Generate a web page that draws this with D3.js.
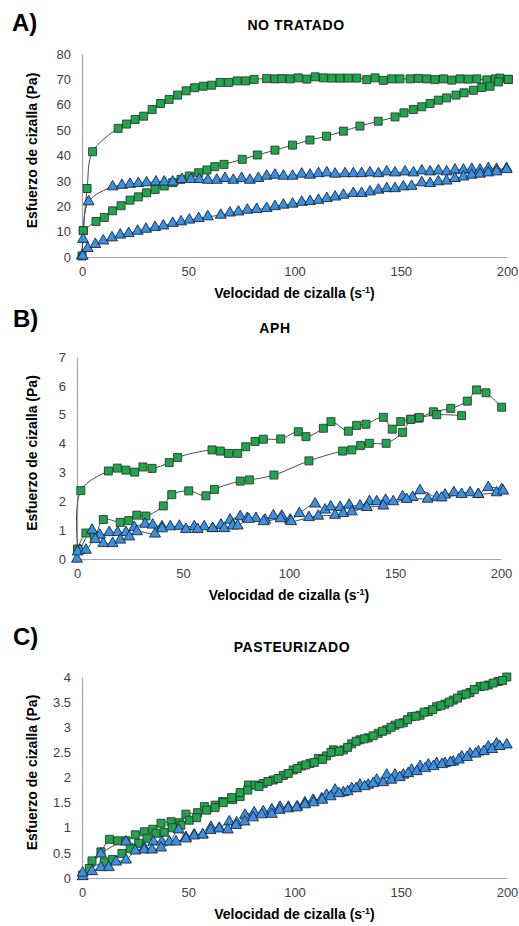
<!DOCTYPE html>
<html>
<head>
<meta charset="utf-8">
<script src="https://cdn.jsdelivr.net/npm/d3@7"></script>
<style>
  body { margin: 0; background: #ffffff; }
  text { font-family: "Liberation Sans", Arial, sans-serif; }
</style>
</head>
<body>
<script>
// x ticks shared by the three panels
var xTicks = [0, 50, 100, 150, 200];

// A) no tratado
var yTicksA = [0, 10, 20, 30, 40, 50, 60, 70, 80];
var aGreenUp = [[0,0.4],[0.6,10.4],[2.4,27],[5,41.5],[17,50.7],[21,52.4],[25,54.2],[29,55.5],[33,58.1],[37,60.5],[41,62.1],[45,63.8],[49,65.5],[53,66.7],[57,67.3],[61,67.7],[65,68.8],[69,68.8],[73,69.4],[77,69.4],[81,70],[86.9,70.3],[90.8,70.2],[94,70.3],[97.9,70.2],[101.8,70.6],[105.8,70.1],[109.7,71],[113.6,70.6],[117.5,70.5],[121.4,70.5],[125.3,70.5],[129.3,70.5],[134,69.9],[137.9,70.6],[141.8,69.6],[145.7,70.2],[149.6,70.2],[154.4,70.2],[158.3,70.4],[162.2,70.2],[166.1,69.9],[170.1,70.2],[174,69.7],[177.9,70.2],[181.8,70.1],[185.8,70.2],[190.5,69.8],[194.4,70.2],[196.7,70.5],[200.6,70]];
var aGreenDown = [[0.6,10.4],[6.6,14],[10.5,15.6],[14.4,18.2],[18.4,20.2],[22.6,22.4],[26.5,23.7],[30.4,25.3],[34.4,26.6],[38.7,28],[42.7,29.3],[46.6,30.6],[50.5,31.9],[54.9,33.2],[58.8,34.3],[62.5,35.6],[66.8,36.5],[75.4,38.5],[82.5,40.2],[90.8,42.1],[99.1,44.1],[107.3,46.1],[115.1,47.6],[123,49.6],[130.8,51.6],[139.4,53.5],[147.3,55.2],[151.5,56.8],[155.9,58.1],[159.9,59.2],[163.8,60.5],[167.7,61.8],[171.6,62.7],[176,63.8],[179.8,64.7],[184.2,65.7],[188.1,66.8],[192,67.3],[196,69],[200.6,70]];
var aBlueUp = [[0,0.5],[0.5,7],[3.1,21.8],[14.4,27.7],[18.8,28.3],[22.6,28.7],[26.5,29],[30.4,29.3],[34.8,29.6],[38.7,29.6],[42.7,29.6],[47,30.6],[51.3,30.6],[55.2,30.6],[59.2,30.3],[63.4,30.3],[67.3,31],[71.2,30.3],[75.1,31],[79,30.3],[83,31],[86.9,31.9],[90.8,32.3],[94.8,31.9],[99.1,31.9],[103.4,32.7],[107.3,32.3],[111.3,32.9],[115.2,33.2],[119.1,32.7],[123.8,32.9],[127.7,32.9],[131.6,32.9],[135.5,33.2],[139.5,32.9],[143.4,33.6],[147.3,33.2],[152,33.6],[156,33.2],[159.9,34],[163.8,33.6],[167.7,34],[171.6,33.6],[175.5,34.3],[179.5,34.3],[183.4,34.6],[187.3,34.3],[191.2,34.9],[195.1,34.6],[199.8,34.9]];
var aBlueDown = [[0.3,0.4],[2.7,3.4],[6.3,5],[10,6.4],[14.1,7.6],[18,8.7],[22,9.3],[26.2,10.2],[30.1,11],[34.4,11.7],[38.3,12.3],[42.7,13.3],[46.6,13.9],[50.5,14.6],[54.9,15.2],[59.2,15.9],[65.3,16.5],[69.6,17.4],[73.6,17.8],[77.8,18.5],[82.2,18.8],[86.9,19.2],[90.8,19.9],[94.8,20.5],[99.1,20.9],[103.4,21.6],[107.3,21.9],[111.3,22.4],[115.2,23.1],[119.1,23.7],[123,24.4],[127.7,25.1],[131.6,25.1],[135.5,25.7],[139.5,26.4],[143.4,27],[147.3,27],[151.2,27.7],[155.1,27.9],[159.9,29.3],[163.8,29],[167.7,29.7],[171.6,30],[175.5,31],[179.5,31.6],[183.4,32.3],[187.3,32.7],[191.2,33.2],[195.1,33.6],[199.8,34.5]];

// B) APH
var yTicksB = [0, 1, 2, 3, 4, 5, 6, 7];
var bGreenUp = [[0.3,0.34],[1.8,2.37],[14.8,3.05],[19,3.15],[23.1,3.08],[27.2,3.01],[31.1,3.19],[35.4,3.14],[43.5,3.34],[47.5,3.52],[63.7,3.78],[67.6,3.74],[71.5,3.66],[75.8,3.66],[79.6,3.89],[84,4.07],[87.9,4.15],[96.1,4.16],[104.4,4.41],[108,4.24],[116.2,4.53],[119.8,4.76],[128,4.43],[131.9,4.63],[136.3,4.67],[144.5,4.91],[148.7,4.5],[152.7,4.76],[157.4,4.84],[161,4.88],[168.1,5.1],[176.3,5.22],[184.1,5.47],[188.5,5.86],[192.9,5.76],[200.3,5.26]];
var bGreenDown = [[0.3,0.34],[4.2,0.9],[8.2,0.8],[12.4,1.37],[20.4,1.27],[24.4,1.33],[28.2,1.52],[32.5,1.49],[40.7,1.84],[44.7,2.23],[52.7,2.36],[60.8,2.19],[64.8,2.41],[77,2.7],[81.3,2.74],[92.9,2.91],[109.4,3.4],[125.3,3.74],[129.6,3.78],[133.8,3.93],[137.9,4.01],[145.8,4.01],[153.6,4.39],[157.5,4.84],[161.5,4.9],[169.7,5.0],[181.4,4.97]];
var bBlueUp = [[0,0],[1.4,0.3],[7.1,1.0],[10.8,0.83],[15.2,0.92],[19.2,0.92],[23.1,0.92],[27,1.1],[32.1,1.21],[35.7,1.18],[40.1,1.12],[44,1.12],[48.3,1.14],[55.3,1.12],[60,1.12],[64,1.06],[67.9,1.18],[72.2,1.35],[77,1.47],[80.3,1.41],[84.4,1.41],[88.7,1.35],[92.6,1.5],[96.6,1.49],[100.5,1.35],[104.9,1.58],[112.3,1.91],[117,1.7],[119.7,1.81],[124.1,1.79],[128.4,1.87],[133.5,1.84],[137.9,1.99],[141.4,1.99],[145.6,2.04],[149.2,1.99],[153.6,2.16],[158.3,2.14],[161.8,2.37],[169.7,2.14],[173.6,2.22],[177.8,2.3],[185.4,2.3],[189.3,2.24],[194,2.48],[200.3,2.41]];
var bBlueDown = [[0.3,0.25],[4.2,0.31],[8.6,0.68],[12.4,0.54],[16.8,0.54],[20.4,0.66],[24.7,0.77],[28.3,0.95],[36.8,0.87],[40.1,1.05],[51.4,1.03],[56.9,1.03],[64,1.06],[69.5,1.06],[73.4,1.15],[75.8,1.15],[81,1.38],[88,1.3],[96,1.4],[101,1.3],[109.4,1.44],[113.8,1.49],[121.7,1.52],[125.6,1.58],[129.6,1.64],[136.7,1.79],[144.5,1.84],[155.5,2.07],[165.4,2.08],[172,2.12],[181.4,2.24],[189.3,2.24],[197.9,2.3],[201,2.36]];

// C) pasteurizado
var yTicksC = [0, 0.5, 1, 1.5, 2, 2.5, 3, 3.5, 4];
var cGreenUp = [[0.3,0.06],[4.7,0.34],[8.9,0.52],[12.9,0.77],[16.8,0.74],[20.7,0.74],[25.1,0.86],[29.3,0.92],[33.3,0.97],[37.2,1.09],[41.9,1.12],[45.8,1.1],[48.9,1.27],[54.4,1.3],[57.6,1.42],[62.7,1.45],[66.2,1.52],[70.9,1.56],[74.4,1.62],[78.3,1.85],[81.4,1.85],[85.3,1.88],[90,1.95],[94.7,2.04],[99.4,2.15],[103.4,2.23],[107.3,2.28],[111.2,2.38],[115.1,2.43],[118.3,2.55],[123,2.55],[126.9,2.67],[130.8,2.75],[134.7,2.79],[139.4,2.88],[143.4,2.95],[147.3,3.04],[151.2,3.09],[155.1,3.21],[159.1,3.24],[163,3.31],[166.9,3.41],[170.8,3.46],[174.7,3.54],[178.7,3.64],[182.6,3.69],[187.3,3.81],[191.2,3.84],[195.9,3.91],[199.9,4.0]];
var cGreenDown = [[3.4,0.19],[10.5,0.32],[14.4,0.37],[18.8,0.49],[22.7,0.59],[26.7,0.69],[30.6,0.79],[34.8,0.89],[38.7,0.91],[42.5,1.0],[46.5,1.05],[50.5,1.15],[54,1.2],[58.7,1.35],[62.6,1.4],[66.5,1.5],[70.4,1.6],[74.4,1.7],[78,1.75],[83.3,1.82],[87.5,1.92],[92.3,1.98],[97,2.08],[101.3,2.18],[105.3,2.25],[109.3,2.3],[113.2,2.36],[117.2,2.5],[121,2.52],[125,2.6],[129,2.72],[132.8,2.77],[137,2.83],[141.4,2.92],[145.4,3.0],[149.3,3.07],[153.2,3.15],[157.1,3.22],[161,3.3],[165,3.35],[168.9,3.43],[172.8,3.5],[176.7,3.58],[180.7,3.66],[184.6,3.75],[189.3,3.82],[193.5,3.88],[197.9,3.93]];
var cBlueUp = [[0.3,0.03],[8.9,0.48],[20.7,0.72],[29.3,0.6],[33.6,0.72],[37.6,0.72],[41.1,0.72],[45.5,0.96],[48.9,0.81],[52.8,0.86],[56.8,0.86],[60.7,1.01],[64.6,0.99],[69.3,1.12],[72.8,1.1],[76.7,1.25],[81,1.3],[85.3,1.32],[89.3,1.36],[93.2,1.41],[97.1,1.41],[101.3,1.42],[104.9,1.5],[108.8,1.55],[112.8,1.58],[115.1,1.65],[119.1,1.75],[123,1.7],[126.9,1.78],[130.8,1.85],[134.7,1.85],[138.7,1.95],[141.8,1.9],[147.3,2.05],[151.2,2.05],[155.1,2.15],[159.1,2.22],[163,2.25],[166.9,2.28],[170.8,2.28],[174.7,2.31],[178.7,2.41],[182.6,2.47],[186.5,2.51],[191.2,2.61],[195.1,2.67],[199.9,2.65]];
var cBlueDown = [[0.3,0.1],[4.7,0.13],[8.9,0.21],[12.6,0.21],[16,0.32],[20.7,0.36],[25.1,0.54],[29.3,0.56],[32.9,0.56],[37.2,0.6],[44.2,0.72],[48.9,0.78],[52.8,0.84],[56.8,0.86],[60.5,0.95],[64.5,0.98],[68.6,0.96],[72.5,1.05],[76.5,1.12],[80.5,1.2],[84.5,1.26],[89.3,1.27],[93,1.35],[97,1.38],[101,1.4],[105,1.46],[109,1.5],[113,1.55],[117,1.62],[121,1.68],[125,1.72],[129,1.78],[133,1.82],[137,1.88],[143.4,2.05],[145.6,1.95],[149.5,2.0],[153.5,2.08],[157.5,2.12],[161.5,2.18],[165.4,2.22],[169.4,2.26],[173.3,2.3],[177.3,2.35],[181.2,2.4],[185.2,2.47],[189.1,2.52],[193,2.56],[196.5,2.62]];

// the whole figure
var svg = d3.select("body")
            .append("svg")
            .attr("width", 519)
            .attr("height", 926);

svg.append("rect")
   .attr("width", 519)
   .attr("height", 926)
   .attr("fill", "#ffffff");

// one panel: box, letter, title and four series
function drawPanel(p) {
    var x = d3.scaleLinear()
              .domain([0, 200])
              .range([p.left, p.right]);

    var y = d3.scaleLinear()
              .domain([0, p.yMax])
              .range([p.bottom, p.top]);

    // y axis
    var yAxis = svg.append("g")
                   .attr("transform", "translate(" + p.left + ",0)")
                   .call(d3.axisLeft(y)
                           .tickValues(p.yTicks)
                           .tickSize(0)
                           .tickPadding(11)
                           .tickFormat(function(d) { return String(d); }));

    // x axis
    var xAxis = svg.append("g")
                   .attr("transform", "translate(0," + p.bottom + ")")
                   .call(d3.axisBottom(x)
                           .tickValues(xTicks)
                           .tickSize(0)
                           .tickPadding(10));

    [yAxis, xAxis].forEach(function(g) {
        g.select(".domain")
         .attr("stroke", "#a6a6a6")
         .attr("stroke-width", 1.2);
        g.selectAll("text")
         .attr("fill", "#404040")
         .style("font-size", "13px")
         .style("font-family", "'Liberation Sans', Arial, sans-serif");
    });

    // panel letter
    svg.append("text")
       .attr("x", p.letterX)
       .attr("y", p.letterY)
       .style("font-size", "24px")
       .style("font-weight", "bold")
       .text(p.letter);

    // panel title
    svg.append("text")
       .attr("x", p.titleX)
       .attr("y", p.titleY)
       .attr("text-anchor", "middle")
       .style("font-size", "14px")
       .style("font-weight", "bold")
       .style("letter-spacing", "0.6px")
       .text(p.title);

    // x axis title with superscript
    var xt = svg.append("text")
                .attr("x", (p.left + p.right) / 2)
                .attr("y", p.bottom + 41)
                .attr("text-anchor", "middle")
                .style("font-size", "14px")
                .style("font-weight", "bold");
    xt.append("tspan").text("Velocidad de cizalla (s");
    xt.append("tspan").attr("dy", -5).style("font-size", "9px").text("-1");
    xt.append("tspan").attr("dy", 5).text(")");

    // y axis title
    svg.append("text")
       .attr("text-anchor", "middle")
       .attr("transform", "translate(37," + ((p.top + p.bottom) / 2 - 5) + ")rotate(-90)")
       .style("font-size", "14px")
       .style("font-weight", "bold")
       .text("Esfuerzo de cizalla (Pa)");

    var line = d3.line()
                 .x(function(d) { return x(d[0]); })
                 .y(function(d) { return y(d[1]); })
                 .curve(d3.curveCatmullRom.alpha(0.5));

    var series = [
        { data: p.greenUp, shape: "square" },
        { data: p.greenDown, shape: "square" },
        { data: p.blueUp, shape: "triangle" },
        { data: p.blueDown, shape: "triangle" }
    ];

    // connecting lines first
    series.forEach(function(s) {
        svg.append("path")
           .datum(s.data)
           .attr("d", line)
           .attr("fill", "none")
           .attr("stroke", "#4a4a4a")
           .attr("stroke-width", 1);
    });

    // then the markers, green squares below blue triangles
    var square = d3.symbol().type(d3.symbolSquare).size(64);
    var triangle = d3.symbol().type(d3.symbolTriangle).size(52);

    series.forEach(function(s) {
        svg.append("g")
           .selectAll("path")
           .data(s.data)
           .enter()
           .append("path")
           .attr("transform", function(d) {
               return "translate(" + x(d[0]) + "," + y(d[1]) + ")";
           })
           .attr("d", s.shape === "square" ? square : triangle)
           .attr("fill", s.shape === "square" ? "#1fa54c" : "#3a90e2")
           .attr("stroke", s.shape === "square" ? "#2d3a30" : "#1c2838")
           .attr("stroke-width", 0.9);
    });
}

drawPanel({
    letter: "A)", letterX: 12, letterY: 31,
    title: "NO TRATADO", titleX: 296, titleY: 30,
    left: 82, right: 507, top: 54, bottom: 257,
    yMax: 80, yTicks: yTicksA,
    greenUp: aGreenUp, greenDown: aGreenDown, blueUp: aBlueUp, blueDown: aBlueDown
});

drawPanel({
    letter: "B)", letterX: 13, letterY: 327,
    title: "APH", titleX: 275, titleY: 333,
    left: 77, right: 501, top: 357, bottom: 559,
    yMax: 7, yTicks: yTicksB,
    greenUp: bGreenUp, greenDown: bGreenDown, blueUp: bBlueUp, blueDown: bBlueDown
});

drawPanel({
    letter: "C)", letterX: 13, letterY: 645,
    title: "PASTEURIZADO", titleX: 292, titleY: 652,
    left: 82, right: 507, top: 677, bottom: 878,
    yMax: 4, yTicks: yTicksC,
    greenUp: cGreenUp, greenDown: cGreenDown, blueUp: cBlueUp, blueDown: cBlueDown
});
</script>
</body>
</html>
